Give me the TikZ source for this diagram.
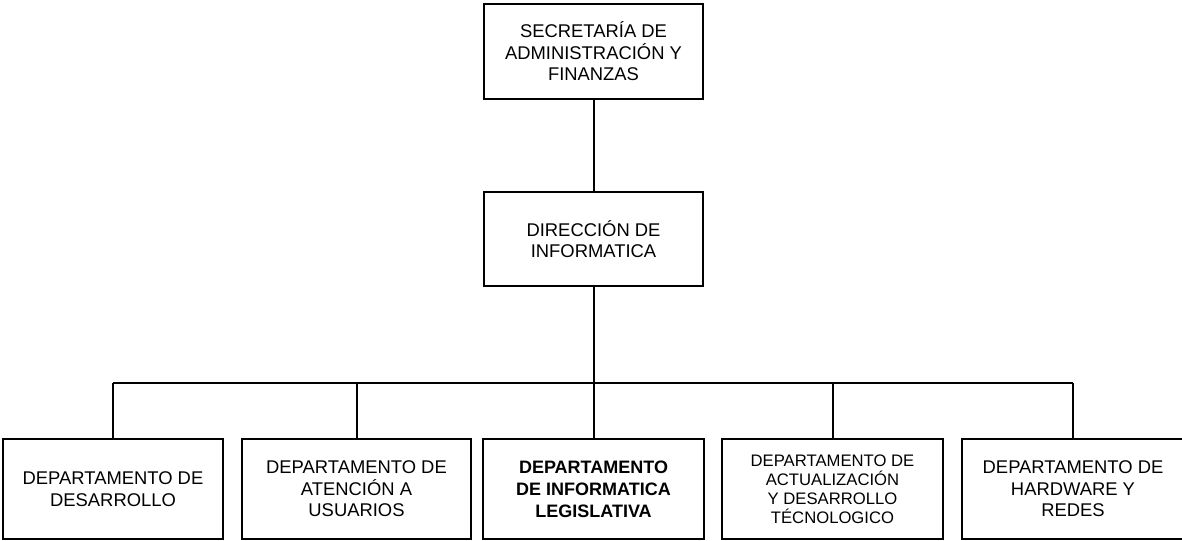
\documentclass[tikz,border=0pt]{standalone}
\usepackage{fontspec}
\setmainfont{Liberation Sans}

\tikzset{every picture/.style={line width=1.5pt}}

\begin{document}
\begin{tikzpicture}[x=0.75pt,y=0.75pt,yscale=-1,xscale=1,
	caja/.style={draw, inner sep=0pt, align=center, minimum height=100*0.75pt,
		font=\fontsize{13.8}{16.1}\selectfont},
	cajachica/.style={caja, font=\fontsize{12.5}{14.2}\selectfont}]
	%set diagram left start at 0, and has height of 541
	\useasboundingbox (0,0) rectangle (1182,541);
	
	% Text Node
	\node [caja, minimum width=219*0.75pt, minimum height=95*0.75pt] (sec) at (593.5,51.5) {SECRETARÍA DE\\ADMINISTRACIÓN Y\\FINANZAS};
	% Text Node
	\node [caja, minimum width=219*0.75pt, minimum height=94*0.75pt] (dir) at (593.5,239) {DIRECCIÓN DE\\INFORMATICA};
	% Text Node
	\node [caja, minimum width=220*0.75pt] (desa) at (113,489) {DEPARTAMENTO DE\\DESARROLLO};
	% Text Node
	\node [caja, minimum width=229*0.75pt] (aten) at (356.5,489) {DEPARTAMENTO DE\\ATENCIÓN A\\USUARIOS};
	% Text Node
	\node [caja, minimum width=221*0.75pt, font=\fontsize{13.5}{16.5}\selectfont\bfseries] (legi) at (593.5,489) {DEPARTAMENTO\\DE INFORMATICA\\LEGISLATIVA};
	% Text Node
	\node [cajachica, minimum width=221*0.75pt] (actu) at (832.5,489) {DEPARTAMENTO DE\\ACTUALIZACIÓN\\Y DESARROLLO\\TÉCNOLOGICO};
	% Text Node
	\node [caja, minimum width=222*0.75pt] (hard) at (1073,489) {DEPARTAMENTO DE\\HARDWARE Y\\REDES};
	
	\coordinate (bus) at (593.5,383);
	
	%Straight Lines
	\draw (sec.south) -- (dir.north);
	\draw (dir.south) -- (bus);
	\draw (bus -| desa.north) -- (bus -| hard.north);
	%Straight Lines
	\foreach \d in {desa,aten,legi,actu,hard}
		\draw (\d.north) -- (\d.north |- bus);
\end{tikzpicture}
\end{document}
